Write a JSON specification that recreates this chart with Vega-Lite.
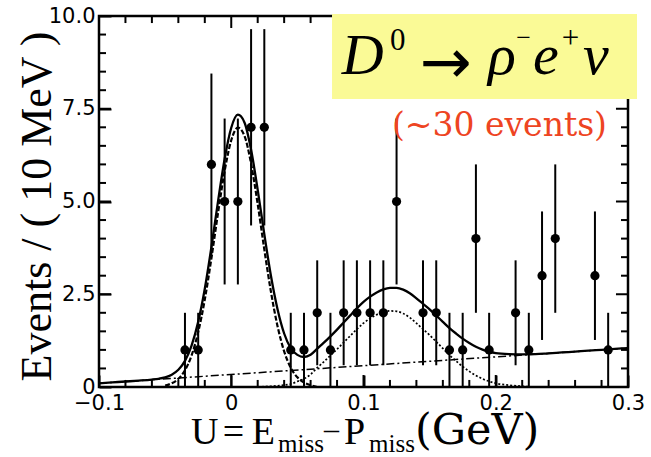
{
  "$schema": "https://vega.github.io/schema/vega-lite/v6.json",
  "width": 529,
  "height": 371,
  "autosize": {"type": "none"},
  "padding": {"left": 99, "top": 16, "right": 23, "bottom": 70},
  "background": "white",
  "config": {
    "view": {"stroke": "black", "strokeWidth": 2.5},
    "axis": {"grid": false, "domain": false, "labelColor": "black", "labelOverlap": false, "labelFlush": false}
  },
  "datasets": {
    "pts": [
      {"x": -0.035, "y": 1, "lo": 0, "hi": 2},
      {"x": -0.025, "y": 1, "lo": 0, "hi": 2},
      {"x": -0.015, "y": 6, "lo": 3.551, "hi": 8.449},
      {"x": -0.005, "y": 5, "lo": 2.764, "hi": 7.236},
      {"x": 0.005, "y": 5, "lo": 2.764, "hi": 7.236},
      {"x": 0.015, "y": 7, "lo": 4.354, "hi": 9.646},
      {"x": 0.025, "y": 7, "lo": 4.354, "hi": 9.646},
      {"x": 0.045, "y": 1, "lo": 0, "hi": 2},
      {"x": 0.055, "y": 1, "lo": 0, "hi": 2},
      {"x": 0.065, "y": 2, "lo": 0.586, "hi": 3.414},
      {"x": 0.075, "y": 1, "lo": 0, "hi": 2},
      {"x": 0.085, "y": 2, "lo": 0.586, "hi": 3.414},
      {"x": 0.095, "y": 2, "lo": 0.586, "hi": 3.414},
      {"x": 0.105, "y": 2, "lo": 0.586, "hi": 3.414},
      {"x": 0.115, "y": 2, "lo": 0.586, "hi": 3.414},
      {"x": 0.125, "y": 5, "lo": 2.764, "hi": 7.236},
      {"x": 0.145, "y": 2, "lo": 0.586, "hi": 3.414},
      {"x": 0.155, "y": 2, "lo": 0.586, "hi": 3.414},
      {"x": 0.165, "y": 1, "lo": 0, "hi": 2},
      {"x": 0.175, "y": 1, "lo": 0, "hi": 2},
      {"x": 0.185, "y": 4, "lo": 2, "hi": 6},
      {"x": 0.195, "y": 1, "lo": 0, "hi": 2},
      {"x": 0.215, "y": 2, "lo": 0.586, "hi": 3.414},
      {"x": 0.225, "y": 1, "lo": 0, "hi": 2},
      {"x": 0.235, "y": 3, "lo": 1.268, "hi": 4.732},
      {"x": 0.245, "y": 4, "lo": 2, "hi": 6},
      {"x": 0.275, "y": 3, "lo": 1.268, "hi": 4.732},
      {"x": 0.285, "y": 1, "lo": 0, "hi": 2}
    ],
    "total": [
      {"x": -0.1, "y": 0.1}, {"x": -0.09, "y": 0.124}, {"x": -0.08, "y": 0.148}, {"x": -0.07, "y": 0.171},
      {"x": -0.06, "y": 0.2}, {"x": -0.055, "y": 0.222}, {"x": -0.05, "y": 0.259}, {"x": -0.045, "y": 0.33},
      {"x": -0.04, "y": 0.463}, {"x": -0.035, "y": 0.704}, {"x": -0.03, "y": 1.116}, {"x": -0.025, "y": 1.758},
      {"x": -0.02, "y": 2.65}, {"x": -0.015, "y": 3.772}, {"x": -0.01, "y": 5.004}, {"x": -0.005, "y": 6.146},
      {"x": 0, "y": 6.988}, {"x": 0.005, "y": 7.339}, {"x": 0.01, "y": 7.131}, {"x": 0.015, "y": 6.393},
      {"x": 0.02, "y": 5.315}, {"x": 0.025, "y": 4.117}, {"x": 0.03, "y": 2.999}, {"x": 0.035, "y": 2.096},
      {"x": 0.04, "y": 1.442}, {"x": 0.045, "y": 1.044}, {"x": 0.05, "y": 0.866}, {"x": 0.055, "y": 0.808},
      {"x": 0.06, "y": 0.87}, {"x": 0.065, "y": 1.032}, {"x": 0.07, "y": 1.194}, {"x": 0.075, "y": 1.366},
      {"x": 0.08, "y": 1.547}, {"x": 0.085, "y": 1.739}, {"x": 0.09, "y": 1.931}, {"x": 0.095, "y": 2.123},
      {"x": 0.1, "y": 2.295}, {"x": 0.105, "y": 2.437}, {"x": 0.11, "y": 2.549}, {"x": 0.115, "y": 2.631},
      {"x": 0.12, "y": 2.672}, {"x": 0.125, "y": 2.674}, {"x": 0.13, "y": 2.626}, {"x": 0.135, "y": 2.528},
      {"x": 0.14, "y": 2.39}, {"x": 0.145, "y": 2.242}, {"x": 0.15, "y": 2.094}, {"x": 0.155, "y": 1.926},
      {"x": 0.16, "y": 1.757}, {"x": 0.165, "y": 1.589}, {"x": 0.17, "y": 1.441}, {"x": 0.175, "y": 1.303},
      {"x": 0.18, "y": 1.185}, {"x": 0.185, "y": 1.087}, {"x": 0.19, "y": 1.009}, {"x": 0.195, "y": 0.951},
      {"x": 0.2, "y": 0.912}, {"x": 0.21, "y": 0.886}, {"x": 0.22, "y": 0.88}, {"x": 0.23, "y": 0.884},
      {"x": 0.24, "y": 0.907}, {"x": 0.25, "y": 0.931}, {"x": 0.26, "y": 0.955}, {"x": 0.27, "y": 0.979},
      {"x": 0.28, "y": 1.002}, {"x": 0.29, "y": 1.026}, {"x": 0.3, "y": 1.05}
    ],
    "signal": [
      {"x": -0.05, "y": 0.04}, {"x": -0.045, "y": 0.1}, {"x": -0.04, "y": 0.22}, {"x": -0.035, "y": 0.45},
      {"x": -0.03, "y": 0.85}, {"x": -0.025, "y": 1.48}, {"x": -0.02, "y": 2.36}, {"x": -0.015, "y": 3.47},
      {"x": -0.01, "y": 4.69}, {"x": -0.005, "y": 5.82}, {"x": 0, "y": 6.65}, {"x": 0.005, "y": 6.99},
      {"x": 0.01, "y": 6.77}, {"x": 0.015, "y": 6.02}, {"x": 0.02, "y": 4.93}, {"x": 0.025, "y": 3.71},
      {"x": 0.03, "y": 2.57}, {"x": 0.035, "y": 1.64}, {"x": 0.04, "y": 0.96}, {"x": 0.045, "y": 0.52},
      {"x": 0.05, "y": 0.26}, {"x": 0.055, "y": 0.12}, {"x": 0.06, "y": 0.05}, {"x": 0.065, "y": 0}
    ],
    "dotted": [
      {"x": 0.02, "y": 0}, {"x": 0.03, "y": 0.02}, {"x": 0.04, "y": 0.05}, {"x": 0.045, "y": 0.08},
      {"x": 0.05, "y": 0.15}, {"x": 0.055, "y": 0.22}, {"x": 0.06, "y": 0.34}, {"x": 0.065, "y": 0.52},
      {"x": 0.07, "y": 0.68}, {"x": 0.075, "y": 0.85}, {"x": 0.08, "y": 1.02}, {"x": 0.085, "y": 1.2},
      {"x": 0.09, "y": 1.38}, {"x": 0.095, "y": 1.56}, {"x": 0.1, "y": 1.72}, {"x": 0.105, "y": 1.85},
      {"x": 0.11, "y": 1.95}, {"x": 0.115, "y": 2.02}, {"x": 0.12, "y": 2.05}, {"x": 0.125, "y": 2.04},
      {"x": 0.13, "y": 1.98}, {"x": 0.135, "y": 1.87}, {"x": 0.14, "y": 1.72}, {"x": 0.145, "y": 1.56},
      {"x": 0.15, "y": 1.4}, {"x": 0.155, "y": 1.22}, {"x": 0.16, "y": 1.04}, {"x": 0.165, "y": 0.86},
      {"x": 0.17, "y": 0.7}, {"x": 0.175, "y": 0.55}, {"x": 0.18, "y": 0.42}, {"x": 0.185, "y": 0.31},
      {"x": 0.19, "y": 0.22}, {"x": 0.195, "y": 0.15}, {"x": 0.2, "y": 0.1}, {"x": 0.21, "y": 0.05},
      {"x": 0.22, "y": 0.02}, {"x": 0.23, "y": 0}
    ],
    "bg": [
      {"x": -0.1, "y": 0.1}, {"x": 0.3, "y": 1.05}
    ],
    "xmajor": [{"v": 0}, {"v": 0.1}, {"v": 0.2}],
    "xminor": [{"v": -0.08}, {"v": -0.06}, {"v": -0.04}, {"v": -0.02}, {"v": 0.02}, {"v": 0.04}, {"v": 0.06}, {"v": 0.08},
               {"v": 0.12}, {"v": 0.14}, {"v": 0.16}, {"v": 0.18}, {"v": 0.22}, {"v": 0.24}, {"v": 0.26}, {"v": 0.28}],
    "ymajor": [{"v": 2.5}, {"v": 5}, {"v": 7.5}],
    "yminor": [{"v": 0.5}, {"v": 1}, {"v": 1.5}, {"v": 2}, {"v": 3}, {"v": 3.5}, {"v": 4}, {"v": 4.5},
               {"v": 5.5}, {"v": 6}, {"v": 6.5}, {"v": 7}, {"v": 8}, {"v": 8.5}, {"v": 9}, {"v": 9.5}],
    "one": [{}]
  },
  "layer": [
    {
      "data": {"name": "pts"},
      "mark": {"type": "rule", "color": "black", "strokeWidth": 2},
      "encoding": {
        "x": {"field": "x", "type": "quantitative",
          "scale": {"domain": [-0.1, 0.3], "nice": false, "zero": false},
          "axis": {"orient": "bottom", "title": null, "values": [-0.1, 0, 0.1, 0.2, 0.3],
            "labelExpr": "abs(datum.value) < 0.001 ? '0' : format(datum.value, '.1f')",
            "ticks": true, "tickSize": -12, "tickColor": "black", "tickWidth": 2,
            "labelFont": "DejaVu Sans", "labelFontSize": 21, "labelPadding": 17}},
        "y": {"field": "lo", "type": "quantitative",
          "scale": {"domain": [0, 10], "nice": false, "zero": false},
          "axis": {"orient": "left", "title": "Events / ( 10 MeV )", "values": [0, 2.5, 5, 7.5, 10],
            "labelExpr": "datum.value == 0 ? '0' : format(datum.value, '.1f')",
            "ticks": true, "tickSize": -12, "tickColor": "black", "tickWidth": 2,
            "labelFont": "DejaVu Sans", "labelFontSize": 21, "labelPadding": 16,
            "titleFont": "Liberation Serif", "titleFontSize": 44, "titleFontWeight": "normal", "titleColor": "black",
            "titleAngle": -90, "titleAlign": "center", "titleBaseline": "alphabetic", "titleX": -49, "titleY": 190}},
        "y2": {"field": "hi"}
      }
    },
    {
      "data": {"name": "pts"},
      "mark": {"type": "circle", "color": "black", "opacity": 1, "size": 85},
      "encoding": {
        "x": {"field": "x", "type": "quantitative"},
        "y": {"field": "y", "type": "quantitative"}
      }
    },
    {
      "data": {"name": "bg"},
      "mark": {"type": "line", "color": "black", "strokeWidth": 1.5, "strokeDash": [8, 3, 2, 3]},
      "encoding": {
        "x": {"field": "x", "type": "quantitative"},
        "y": {"field": "y", "type": "quantitative"}
      }
    },
    {
      "data": {"name": "dotted"},
      "mark": {"type": "line", "color": "black", "strokeWidth": 1.7, "strokeDash": [2, 2], "interpolate": "monotone"},
      "encoding": {
        "x": {"field": "x", "type": "quantitative"},
        "y": {"field": "y", "type": "quantitative"}
      }
    },
    {
      "data": {"name": "signal"},
      "mark": {"type": "line", "color": "black", "strokeWidth": 2.2, "strokeDash": [5, 2], "interpolate": "monotone"},
      "encoding": {
        "x": {"field": "x", "type": "quantitative"},
        "y": {"field": "y", "type": "quantitative"}
      }
    },
    {
      "data": {"name": "total"},
      "mark": {"type": "line", "color": "black", "strokeWidth": 2.3, "interpolate": "monotone"},
      "encoding": {
        "x": {"field": "x", "type": "quantitative"},
        "y": {"field": "y", "type": "quantitative"}
      }
    },
    {
      "data": {"name": "xmajor"},
      "mark": {"type": "rule", "color": "black", "strokeWidth": 2, "opacity": 1},
      "encoding": {"x": {"field": "v", "type": "quantitative"}, "y": {"datum": 0, "type": "quantitative"}, "y2": {"datum": 0.323}}
    },
    {
      "data": {"name": "xmajor"},
      "mark": {"type": "rule", "color": "black", "strokeWidth": 2, "opacity": 1},
      "encoding": {"x": {"field": "v", "type": "quantitative"}, "y": {"datum": 10, "type": "quantitative"}, "y2": {"datum": 9.677}}
    },
    {
      "data": {"name": "xminor"},
      "mark": {"type": "rule", "color": "black", "strokeWidth": 2, "opacity": 1},
      "encoding": {"x": {"field": "v", "type": "quantitative"}, "y": {"datum": 0, "type": "quantitative"}, "y2": {"datum": 0.19}}
    },
    {
      "data": {"name": "xminor"},
      "mark": {"type": "rule", "color": "black", "strokeWidth": 2, "opacity": 1},
      "encoding": {"x": {"field": "v", "type": "quantitative"}, "y": {"datum": 10, "type": "quantitative"}, "y2": {"datum": 9.81}}
    },
    {
      "data": {"name": "ymajor"},
      "mark": {"type": "rule", "color": "black", "strokeWidth": 2, "opacity": 1},
      "encoding": {"y": {"field": "v", "type": "quantitative"}, "x": {"datum": -0.1, "type": "quantitative"}, "x2": {"datum": -0.0909}}
    },
    {
      "data": {"name": "ymajor"},
      "mark": {"type": "rule", "color": "black", "strokeWidth": 2, "opacity": 1},
      "encoding": {"y": {"field": "v", "type": "quantitative"}, "x": {"datum": 0.3, "type": "quantitative"}, "x2": {"datum": 0.2909}}
    },
    {
      "data": {"name": "yminor"},
      "mark": {"type": "rule", "color": "black", "strokeWidth": 2, "opacity": 1},
      "encoding": {"y": {"field": "v", "type": "quantitative"}, "x": {"datum": -0.1, "type": "quantitative"}, "x2": {"datum": -0.0947}}
    },
    {
      "data": {"name": "yminor"},
      "mark": {"type": "rule", "color": "black", "strokeWidth": 2, "opacity": 1},
      "encoding": {"y": {"field": "v", "type": "quantitative"}, "x": {"datum": 0.3, "type": "quantitative"}, "x2": {"datum": 0.2947}}
    },
    {
      "data": {"name": "one"},
      "mark": {"type": "rect", "color": "#fafa96", "opacity": 1},
      "encoding": {
        "x": {"datum": 0.0762, "type": "quantitative"},
        "x2": {"datum": 0.3068},
        "y": {"datum": 10.054, "type": "quantitative"},
        "y2": {"datum": 7.766}
      }
    },
    {"data": {"name": "one"}, "mark": {"type": "text", "text": "D", "font": "Liberation Serif", "fontStyle": "italic", "fontSize": 58, "align": "left", "baseline": "alphabetic", "color": "black"},
     "encoding": {"x": {"datum": 0.0835, "type": "quantitative"}, "y": {"datum": 8.439, "type": "quantitative"}}},
    {"data": {"name": "one"}, "mark": {"type": "text", "text": "0", "font": "Liberation Serif", "fontSize": 31, "align": "left", "baseline": "alphabetic", "color": "black"},
     "encoding": {"x": {"datum": 0.12, "type": "quantitative"}, "y": {"datum": 9.085, "type": "quantitative"}}},
    {"data": {"name": "one"}, "mark": {"type": "text", "text": "→", "font": "DejaVu Sans", "fontSize": 62, "align": "left", "baseline": "alphabetic", "color": "black"},
     "encoding": {"x": {"datum": 0.1425, "type": "quantitative"}, "y": {"datum": 8.2, "type": "quantitative"}}},
    {"data": {"name": "one"}, "mark": {"type": "text", "text": "ρ", "font": "Liberation Serif", "fontStyle": "italic", "fontSize": 58, "align": "left", "baseline": "alphabetic", "color": "black"},
     "encoding": {"x": {"datum": 0.1941, "type": "quantitative"}, "y": {"datum": 8.439, "type": "quantitative"}}},
    {"data": {"name": "one"}, "mark": {"type": "text", "text": "−", "font": "Liberation Serif", "fontSize": 26, "align": "left", "baseline": "alphabetic", "color": "black"},
     "encoding": {"x": {"datum": 0.2155, "type": "quantitative"}, "y": {"datum": 9.179, "type": "quantitative"}}},
    {"data": {"name": "one"}, "mark": {"type": "text", "text": "e", "font": "Liberation Serif", "fontStyle": "italic", "fontSize": 58, "align": "left", "baseline": "alphabetic", "color": "black"},
     "encoding": {"x": {"datum": 0.2282, "type": "quantitative"}, "y": {"datum": 8.439, "type": "quantitative"}}},
    {"data": {"name": "one"}, "mark": {"type": "text", "text": "+", "font": "Liberation Serif", "fontSize": 31, "align": "left", "baseline": "alphabetic", "color": "black"},
     "encoding": {"x": {"datum": 0.2499, "type": "quantitative"}, "y": {"datum": 9.139, "type": "quantitative"}}},
    {"data": {"name": "one"}, "mark": {"type": "text", "text": "ν", "font": "Liberation Serif", "fontStyle": "italic", "fontSize": 58, "align": "left", "baseline": "alphabetic", "color": "black"},
     "encoding": {"x": {"datum": 0.266, "type": "quantitative"}, "y": {"datum": 8.439, "type": "quantitative"}}},
    {"data": {"name": "one"}, "mark": {"type": "text", "text": "(~30 events)", "font": "DejaVu Serif", "fontSize": 33, "align": "right", "baseline": "alphabetic", "color": "#ee4422"},
     "encoding": {"x": {"datum": 0.2841, "type": "quantitative"}, "y": {"datum": 6.77, "type": "quantitative"}}},
    {"data": {"name": "one"}, "mark": {"type": "text", "text": "U", "font": "Liberation Serif", "fontSize": 38, "align": "left", "baseline": "alphabetic", "color": "black"},
     "encoding": {"x": {"datum": -0.0304, "type": "quantitative"}, "y": {"datum": -1.54, "type": "quantitative"}}},
    {"data": {"name": "one"}, "mark": {"type": "text", "text": "=", "font": "Liberation Serif", "fontSize": 38, "align": "left", "baseline": "alphabetic", "color": "black"},
     "encoding": {"x": {"datum": -0.0065, "type": "quantitative"}, "y": {"datum": -1.54, "type": "quantitative"}}},
    {"data": {"name": "one"}, "mark": {"type": "text", "text": "E", "font": "Liberation Serif", "fontSize": 38, "align": "left", "baseline": "alphabetic", "color": "black"},
     "encoding": {"x": {"datum": 0.0155, "type": "quantitative"}, "y": {"datum": -1.54, "type": "quantitative"}}},
    {"data": {"name": "one"}, "mark": {"type": "text", "text": "miss", "font": "Liberation Serif", "fontSize": 25, "align": "left", "baseline": "alphabetic", "color": "black"},
     "encoding": {"x": {"datum": 0.0354, "type": "quantitative"}, "y": {"datum": -1.76, "type": "quantitative"}}},
    {"data": {"name": "one"}, "mark": {"type": "text", "text": "–", "font": "Liberation Serif", "fontSize": 30, "align": "left", "baseline": "alphabetic", "color": "black"},
     "encoding": {"x": {"datum": 0.0701, "type": "quantitative"}, "y": {"datum": -1.4, "type": "quantitative"}}},
    {"data": {"name": "one"}, "mark": {"type": "text", "text": "P", "font": "Liberation Serif", "fontSize": 38, "align": "left", "baseline": "alphabetic", "color": "black"},
     "encoding": {"x": {"datum": 0.0853, "type": "quantitative"}, "y": {"datum": -1.54, "type": "quantitative"}}},
    {"data": {"name": "one"}, "mark": {"type": "text", "text": "miss", "font": "Liberation Serif", "fontSize": 25, "align": "left", "baseline": "alphabetic", "color": "black"},
     "encoding": {"x": {"datum": 0.1042, "type": "quantitative"}, "y": {"datum": -1.76, "type": "quantitative"}}},
    {"data": {"name": "one"}, "mark": {"type": "text", "text": "(GeV)", "font": "DejaVu Serif", "fontSize": 43, "align": "left", "baseline": "alphabetic", "color": "black"},
     "encoding": {"x": {"datum": 0.1389, "type": "quantitative"}, "y": {"datum": -1.54, "type": "quantitative"}}}
  ]
}
